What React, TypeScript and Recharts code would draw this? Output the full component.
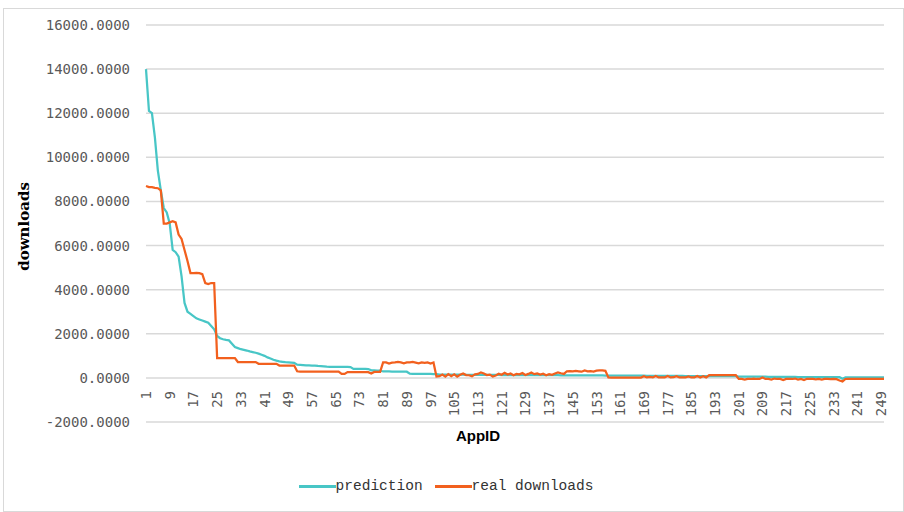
import { LineChart, Line, XAxis, YAxis, CartesianGrid, Legend } from "recharts";

// AppID 1..250
const appIds = Array.from({ length: 250 }, (_, i) => i + 1);

const prediction = [
  14000, 12100, 12000, 10900, 9400, 8500, 7700, 7500, 7000, 5800,
  5700, 5500, 4600, 3400, 3000, 2900, 2800, 2700, 2650, 2600,
  2550, 2500, 2350, 2200, 1900, 1800, 1750, 1720, 1700, 1550,
  1400, 1350, 1300, 1270, 1240, 1200, 1170, 1140, 1100, 1050,
  1000, 930, 880, 820, 780, 750, 730, 710, 700, 690,
  680, 600, 590, 580, 570, 565, 560, 555, 540, 530,
  520, 510, 505, 500, 500, 500, 500, 495, 495, 490,
  410, 410, 410, 405, 405, 400, 340, 340, 335, 335,
  290, 290, 290, 285, 285, 285, 280, 280, 280, 190,
  185, 185, 185, 180, 180, 180, 180, 175, 175, 150,
  150, 150, 150, 150, 145, 145, 145, 145, 140, 140,
  140, 140, 140, 140, 135, 135, 135, 135, 135, 135,
  130, 130, 130, 130, 130, 130, 130, 125, 125, 125,
  125, 125, 125, 120, 120, 120, 120, 120, 120, 120,
  115, 115, 115, 115, 115, 115, 115, 110, 110, 110,
  110, 110, 110, 110, 110, 105, 105, 105, 105, 105,
  100, 100, 100, 100, 100, 100, 100, 100, 100, 95,
  95, 95, 95, 95, 95, 90, 90, 90, 90, 90,
  90, 90, 85, 85, 85, 85, 85, 85, 80, 80,
  80, 80, 80, 80, 80, 75, 75, 75, 75, 75,
  60, 60, 60, 60, 60, 55, 55, 55, 55, 55,
  50, 50, 50, 50, 50, 45, 45, 45, 45, 45,
  40, 40, 40, 40, 40, 35, 35, 35, 35, 35,
  30, 30, 30, 30, 30, -40, 25, 25, 25, 25,
  20, 20, 20, 20, 20, 20, 20, 20, 20, 20,
];

const realDownloads = [
  8700, 8650, 8650, 8620, 8600, 8500, 7000, 7000, 7050, 7100,
  7050, 6500, 6300, 5800, 5300, 4750, 4750, 4760, 4750, 4700,
  4300, 4250, 4300, 4300, 900, 900, 900, 900, 900, 900,
  900, 720, 720, 720, 720, 720, 720, 720, 640, 640,
  640, 640, 640, 640, 640, 560, 560, 560, 560, 560,
  560, 300, 280, 280, 280, 280, 280, 280, 280, 280,
  280, 280, 280, 280, 280, 280, 180, 180, 260, 260,
  260, 260, 260, 260, 260, 260, 200, 270, 270, 270,
  700, 700, 650, 690, 700, 720, 700, 660, 700, 700,
  720, 690, 660, 700, 680, 700, 650, 700, 60, 80,
  150, 60, 170, 80, 160, 60, 140, 200, 130, 120,
  70, 160, 180, 250, 200, 130, 150, 60, 110, 190,
  140, 230, 150, 200, 120, 180, 160, 220, 130, 180,
  240, 170, 200, 150, 190, 120, 170, 140, 200, 250,
  210, 180, 300, 310, 300, 320, 300, 280, 340, 300,
  310, 290, 330, 340, 340, 320, 20, 15, 15, 15,
  15, 15, 15, 15, 15, 15, 15, 15, 80, 20,
  40, 20, 90, 20, 20, 20, 90, 20, 30, 80,
  20, 20, 20, 70, 20, 20, 90, 20, 80, 20,
  120, 120, 120, 120, 120, 120, 120, 120, 120, 120,
  -50, -50, -80, -50, -50, -30, -50, -50, 20, -50,
  -50, -80, -30, -50, -50, -100, -50, -50, -50, -30,
  -80, -50, -100, -40, -50, -50, -70, -50, -80, -50,
  -50, -60, -50, -60, -120, -160, -50, -45, -45, -45,
  -45, -45, -45, -45, -45, -45, -45, -45, -45, -45,
];

const yTicks = [-2000, 0, 2000, 4000, 6000, 8000, 10000, 12000, 14000, 16000];

const data = appIds.map((id, i) => ({ id, prediction: prediction[i], real: realDownloads[i] }));

const TEAL = "#48C6C6";
const ORANGE = "#F2601E";
const TICK_FONT = "'DejaVu Sans Mono', monospace";

// x labels sit under the zero line, not under the plot bottom
const XTick = ({ x, y, payload }: any) => {
  const ty = y - 31;
  return (
    <text x={x} y={ty} transform={`rotate(-90 ${x} ${ty})`} textAnchor="end" dominantBaseline="central"
      fontFamily={TICK_FONT} fontSize={14} fill="#595959">
      {payload.value}
    </text>
  );
};

const YTitle = ({ viewBox }: any) => {
  const cx = 24;
  const cy = viewBox.y + viewBox.height / 2 + 3;
  return (
    <text x={cx} y={cy} transform={`rotate(-90 ${cx} ${cy})`} textAnchor="middle" dominantBaseline="central"
      fontFamily="'DejaVu Serif', serif" fontWeight="bold" fontSize={15} fill="#000">
      downloads
    </text>
  );
};

const XTitle = ({ viewBox }: any) => (
  <text x={478} y={viewBox.y + 13} textAnchor="middle" dominantBaseline="central"
    fontFamily="'Liberation Sans', Arial, sans-serif" fontWeight="bold" fontSize={15} fill="#000">
    AppID
  </text>
);

const LegendBox = () => (
  <div style={{ display: "flex", justifyContent: "center", alignItems: "center", height: 36,
    fontFamily: "'Liberation Mono', monospace", fontSize: 14.5, color: "#333" }}>
    {[{ c: TEAL, t: "prediction" }, { c: ORANGE, t: "real downloads" }].map((it) => (
      <div key={it.t} style={{ display: "flex", alignItems: "center", marginRight: 12 }}>
        <span style={{ display: "inline-block", width: 37, height: 3, background: it.c }} />
        <span>{it.t}</span>
      </div>
    ))}
  </div>
);

export default function App() {
  return (
    <div style={{ position: "absolute", left: 0, top: 0, width: 904, height: 512, background: "#fff" }}>
      <div style={{ position: "absolute", left: 3, top: 8, width: 899, height: 502, border: "1px solid #d9d9d9" }} />
      <LineChart width={904} height={512} data={data} margin={{ top: 25, right: 20, left: 0, bottom: 8 }}>
        <CartesianGrid vertical={false} stroke="#d9d9d9" strokeWidth={1.5} />
        <XAxis dataKey="id" interval={7} axisLine={false} tickLine={false} tickSize={0} tickMargin={0}
          height={46} tick={<XTick />} label={<XTitle />} />
        <YAxis domain={[-2000, 16000]} ticks={yTicks} allowDataOverflow width={146} axisLine={false}
          tickLine={false} tickMargin={10}
          tickFormatter={(v: number) => v.toFixed(4)}
          tick={{ fontFamily: TICK_FONT, fontSize: 14, fill: "#595959" }} label={<YTitle />} />
        <Legend verticalAlign="bottom" height={36} wrapperStyle={{ left: 0, width: 904 }} content={<LegendBox />} />
        <Line type="linear" dataKey="prediction" name="prediction" stroke={TEAL} strokeWidth={2.25}
          dot={false} isAnimationActive={false} />
        <Line type="linear" dataKey="real" name="real downloads" stroke={ORANGE} strokeWidth={2.25}
          dot={false} isAnimationActive={false} />
      </LineChart>
    </div>
  );
}
